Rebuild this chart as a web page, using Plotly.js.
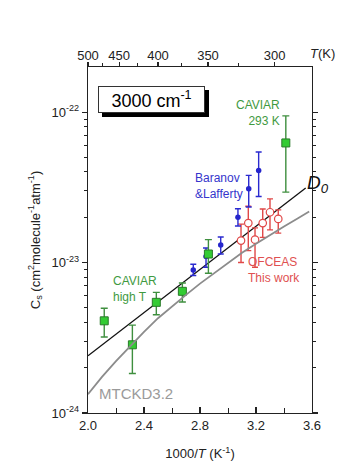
<!DOCTYPE html>
<html>
<head>
<meta charset="utf-8">
<script src="https://cdn.plot.ly/plotly-3.0.1.min.js"></script>
<style>
html,body{margin:0;padding:0;background:#fff;}
#chart{width:351px;height:474px;}
</style>
</head>
<body>
<div id="chart"></div>
<script>
// ---- data (x = 1000/T in K^-1, y = Cs in cm2 molecule-1 atm-1) ----
const caviarX = [2.116, 2.317, 2.488, 2.674, 2.86, 3.413];
const caviarY = [4.1e-24, 2.84e-24, 5.44e-24, 6.44e-24, 1.14e-23, 6.24e-23];
const caviarHi = [4.97e-24, 3.84e-24, 6.34e-24, 7.32e-24, 1.42e-23, 9.45e-23];
const caviarLo = [3.2e-24, 1.83e-24, 4.5e-24, 5.47e-24, 8.5e-24, 2.94e-23];

const baranovX = [2.752, 2.843, 2.948, 3.071, 3.148, 3.219];
const baranovY = [8.94e-24, 1.096e-23, 1.31e-23, 2.0e-23, 3.1e-23, 4.1e-23];
const baranovHi = [9.75e-24, 1.25e-23, 1.48e-23, 2.28e-23, 3.8e-23, 5.43e-23];
const baranovLo = [8.2e-24, 9.3e-24, 1.14e-23, 1.75e-23, 2.34e-23, 2.75e-23];

const ofceasX = [3.093, 3.145, 3.193, 3.248, 3.3, 3.359];
const ofceasY = [1.40e-23, 1.83e-23, 1.42e-23, 1.83e-23, 2.16e-23, 1.95e-23];
const ofceasHi = [1.8e-23, 2.37e-23, 1.7e-23, 2.27e-23, 2.65e-23, 2.24e-23];
const ofceasLo = [1.0e-23, 1.2e-23, 9.3e-24, 1.47e-23, 1.65e-23, 1.57e-23];

const d0X = [2.0, 3.555];
const d0Y = [2.399e-24, 3.13e-23];

const mtckdX = [2.0, 2.1, 2.2, 2.3, 2.4, 2.5, 2.6, 2.7, 2.8, 2.9, 3.0, 3.1, 3.2, 3.3, 3.4, 3.5, 3.58];
const mtckdY = [1.334e-24, 1.738e-24, 2.213e-24, 2.786e-24, 3.467e-24, 4.266e-24, 5.129e-24, 6.095e-24,
                7.244e-24, 8.511e-24, 1.0e-23, 1.161e-23, 1.334e-23, 1.531e-23, 1.738e-23, 1.972e-23, 2.188e-23];

const bottomTicks = [2.0, 2.4, 2.8, 3.2, 3.6];
const bottomMinor = [2.2, 2.6, 3.0, 3.4];
const topTempTicks = [500, 450, 400, 350, 300];
const topTempMinor = [475, 425, 375, 325];
const yMajor = [1e-24, 1e-23, 1e-22];
const yMajorText = ['10<sup>-24</sup>', '10<sup>-23</sup>', '10<sup>-22</sup>'];
const yMinor = [2e-24,3e-24,4e-24,5e-24,6e-24,7e-24,8e-24,9e-24,2e-23,3e-23,4e-23,5e-23,6e-23,7e-23,8e-23,9e-23];

const FONT = '"Liberation Sans", Arial, sans-serif';
function errs(y, hi, lo){
  return {plus: hi.map((h,i)=>h-y[i]), minus: lo.map((l,i)=>y[i]-l)};
}
const eC = errs(caviarY, caviarHi, caviarLo);
const eB = errs(baranovY, baranovHi, baranovLo);
const eO = errs(ofceasY, ofceasHi, ofceasLo);

const traces = [
  {x: mtckdX, y: mtckdY, mode: 'lines', line: {color: '#8c8c8c', width: 1.8}, hoverinfo: 'skip', xaxis: 'x2'},
  {x: d0X, y: d0Y, mode: 'lines', line: {color: '#111', width: 1.3}, hoverinfo: 'skip'},
  {x: ofceasX, y: ofceasY, mode: 'markers',
   marker: {symbol: 'circle', size: 7.5, color: '#ffffff', line: {color: '#e04848', width: 1.2}},
   error_y: {type: 'data', symmetric: false, array: eO.plus, arrayminus: eO.minus, color: '#e04848', thickness: 1.4, width: 3}},
  {x: baranovX, y: baranovY, mode: 'markers',
   marker: {symbol: 'circle', size: 5.5, color: '#2525cc'},
   error_y: {type: 'data', symmetric: false, array: eB.plus, arrayminus: eB.minus, color: '#2a2ad0', thickness: 1.4, width: 3}},
  {x: caviarX, y: caviarY, mode: 'markers',
   marker: {symbol: 'square', size: 8, color: '#33cc33', line: {color: '#2a7a2a', width: 1}},
   error_y: {type: 'data', symmetric: false, array: eC.plus, arrayminus: eC.minus, color: '#3f8f3f', thickness: 1.4, width: 3.5}}
];

const axisCommon = {showline: true, linecolor: '#222', linewidth: 1.2, showgrid: false, zeroline: false,
  tickcolor: '#222', tickfont: {family: FONT, size: 13, color: '#222'}};

const layout = {
  width: 351, height: 474,
  margin: {l: 88, r: 39, t: 67, b: 61, pad: 0},
  paper_bgcolor: '#ffffff', plot_bgcolor: '#ffffff',
  showlegend: false,
  font: {family: FONT, color: '#222'},
  xaxis: Object.assign({}, axisCommon, {
    range: [2.0, 3.6], tickmode: 'array', tickvals: bottomTicks,
    ticktext: bottomTicks.map(v => v.toFixed(1)),
    ticks: 'inside', ticklen: 6, tickwidth: 1.2, mirror: false,
    minor: {tickmode: 'array', tickvals: bottomMinor, ticks: 'inside', ticklen: 5, tickcolor: '#222', tickwidth: 1},
    title: {text: '1000/<i>T</i> (K<sup>-1</sup>)', font: {family: FONT, size: 13, color: '#222'}, standoff: 17}
  }),
  xaxis2: Object.assign({}, axisCommon, {
    overlaying: 'x', side: 'top', range: [2.0, 3.6], tickmode: 'array',
    tickvals: topTempTicks.map(t => 1000 / t), ticktext: topTempTicks.map(String),
    ticks: 'outside', ticklen: 4, tickwidth: 1.2, ticklabelstandoff: -3,
    minor: {tickmode: 'array', tickvals: topTempMinor.map(t => 1000 / t), ticks: 'outside', ticklen: 3, tickcolor: '#222', tickwidth: 1}
  }),
  yaxis: Object.assign({}, axisCommon, {
    type: 'log', range: [-24, -21.7], tickmode: 'array', tickvals: yMajor, ticktext: yMajorText,
    ticks: 'outside', ticklen: 5, tickwidth: 1.2, mirror: 'ticks',
    minor: {tickmode: 'array', tickvals: yMinor, ticks: 'outside', ticklen: 3, tickcolor: '#222', tickwidth: 1},
    title: {text: 'C<sub>s</sub> (cm<sup>2</sup>molecule<sup>-1</sup>atm<sup>-1</sup>)', font: {family: FONT, size: 13, color: '#222'}, standoff: 8}
  }),
  annotations: [
    // box shadow (empty box) and box
    {xref: 'paper', yref: 'paper', x: 0.284, y: 0.9055, xanchor: 'center', yanchor: 'middle', xshift: 3.5, yshift: -3.5,
     text: '&nbsp;', showarrow: false,
     font: {family: FONT, size: 18, color: '#000'}, bgcolor: '#000', bordercolor: '#000', borderwidth: 1, borderpad: 1, width: 103, height: 23},
    {xref: 'paper', yref: 'paper', x: 0.284, y: 0.9055, xanchor: 'center', yanchor: 'middle',
     text: '3000 cm<sup>-1</sup>', showarrow: false,
     font: {family: FONT, size: 18, color: '#000'}, bgcolor: '#fff', bordercolor: '#333', borderwidth: 1, borderpad: 1, width: 103, height: 23},
    {xref: 'paper', yref: 'paper', x: 1.045, y: 1.038, xanchor: 'center', yanchor: 'middle', text: '<i>T</i>(K)', showarrow: false,
     font: {family: FONT, size: 13, color: '#222'}},
    {x: 3.386, y: -22.003, xanchor: 'right', align: 'right', text: 'CAVIAR<br>293 K', showarrow: false,
     font: {family: FONT, size: 12, color: '#3f9a3f'}},
    {x: 2.75, y: -22.493, xanchor: 'left', align: 'left', text: 'Baranov<br>&amp;Lafferty', showarrow: false,
     font: {family: FONT, size: 12, color: '#3535cc'}},
    {x: 3.129, y: -23.051, xanchor: 'left', align: 'left', text: 'OFCEAS<br>This work', showarrow: false,
     font: {family: FONT, size: 12, color: '#e05050'}},
    {x: 2.162, y: -23.173, xanchor: 'left', align: 'left', text: 'CAVIAR<br>high T', showarrow: false,
     font: {family: FONT, size: 12, color: '#3f9a3f'}},
    {x: 2.066, y: -23.873, xanchor: 'left', text: 'MTCKD3.2', showarrow: false,
     font: {family: FONT, size: 15, color: '#9a9a9a'}},
    {x: 3.55, y: -22.48, xanchor: 'left', text: '<i>D</i><sub><i>0</i></sub>', showarrow: false,
     font: {family: FONT, size: 19, color: '#111'}}
  ]
};

Plotly.newPlot('chart', traces, layout, {staticPlot: true, displayModeBar: false});
</script>
</body>
</html>
